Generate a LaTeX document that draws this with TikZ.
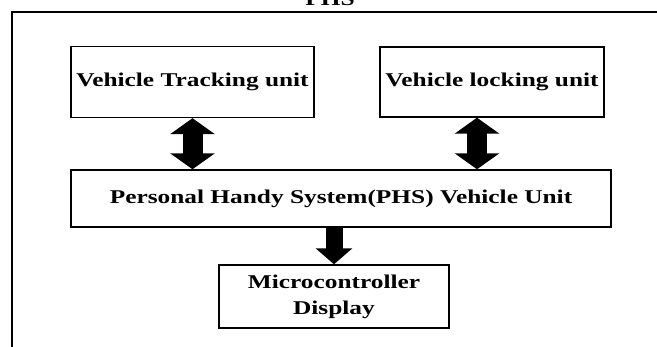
\documentclass[tikz,border=0pt]{standalone}
\usepackage{fontspec}
\setmainfont{Liberation Serif}
\newfontfamily\widefont[FakeStretch=1.3]{Liberation Serif}
\usetikzlibrary{positioning, arrows.meta}

\begin{document}
\begin{tikzpicture}[x=1pt, y=1pt,
                unitbox/.style={draw=black, line width=1.4pt, fill=white, align=center, inner sep=0pt, font=\widefont\bfseries\fontsize{19.5}{26}\selectfont},
                bigarrow/.style={line width=20pt, {Triangle[width=44pt,length=16pt]}-{Triangle[width=44pt,length=16pt]}},
                downarrow/.style={line width=17pt, -{Triangle[width=36pt,length=16pt]}}]
                \useasboundingbox (0,0) rectangle (657,347);
                \draw[line width=1.4pt] (12,-20) -- (12,335) -- (680,335);
                \draw (330,341) node[anchor=base, font=\widefont\bfseries\fontsize{19.5}{22}\selectfont] (title) {PHS};
                \draw (192.5,265) node[unitbox, minimum width=243pt, minimum height=71pt] (track) {Vehicle Tracking unit};
                \draw (492,265) node[unitbox, minimum width=224pt, minimum height=70pt] (lock) {Vehicle locking unit};
                \draw (341,148.5) node[unitbox, minimum width=540pt, minimum height=57pt] (phs) {Personal Handy System(PHS) Vehicle Unit};
                \draw (334,50.5) node[unitbox, minimum width=230pt, minimum height=63pt] (disp) {Microcontroller\\Display};
                \draw[bigarrow] (track.south) -- (track.south |- phs.north);
                \draw[bigarrow] ([xshift=-15pt]lock.south) -- ([xshift=-15pt]lock.south |- phs.north);
                \draw[downarrow] (disp.north |- phs.south) -- (disp.north);
            \end{tikzpicture}
\end{document}
